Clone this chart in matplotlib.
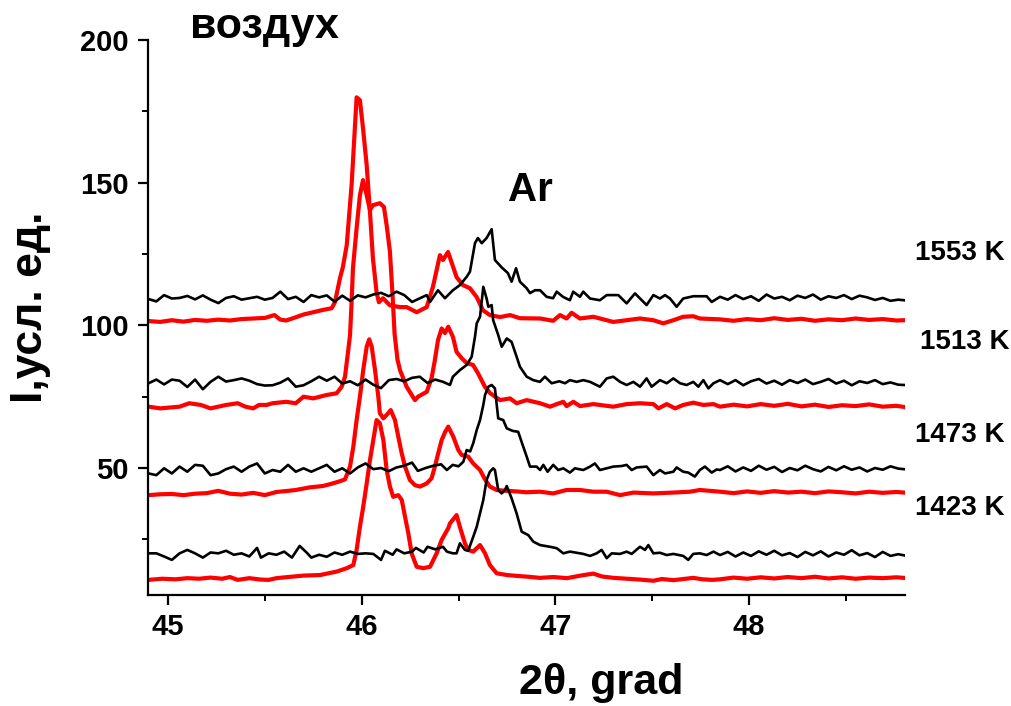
import matplotlib
matplotlib.use("Agg")
import matplotlib.pyplot as plt
from matplotlib.ticker import MultipleLocator

# ---------------- data ----------------
# 1553 K
tt_1553_air = [44.90, 44.96, 45.02, 45.08, 45.14, 45.20, 45.26, 45.32, 45.38, 45.44, 45.50, 45.55, 45.58, 45.61,
               45.65, 45.70, 45.75, 45.80, 45.845, 45.862, 45.888, 45.903, 45.923, 45.948, 45.974, 45.991, 46.007,
               46.026, 46.043, 46.058, 46.077, 46.089, 46.11, 46.146, 46.198, 46.232, 46.284, 46.336, 46.368,
               46.404, 46.42, 46.446, 46.49, 46.523, 46.559, 46.594, 46.626, 46.662, 46.714, 46.766, 46.817,
               46.921, 46.989, 47.024, 47.058, 47.084, 47.127, 47.196, 47.299, 47.437, 47.506, 47.557, 47.609,
               47.660, 47.712, 47.746, 47.850, 47.92, 47.99, 48.06, 48.13, 48.20, 48.27, 48.34, 48.41, 48.48,
               48.55, 48.62, 48.69, 48.76, 48.80]
I_1553_air = [101.5, 101.2, 101.8, 101.3, 101.9, 101.6, 102.0, 101.7, 102.2, 102.4, 102.6, 103.6, 102.0, 101.7,
              102.6, 103.8, 104.6, 105.4, 106.0, 108.1, 116.5, 120.4, 128.1, 149.1, 179.9, 178.9, 169.1,
              156.1, 139.7, 123.6, 111.6, 108.1, 109.5, 107.0, 106.4, 106.4, 104.6, 106.4, 113.5,
              124.6, 122.9, 125.7, 116.9, 114.1, 113.0, 109.9, 105.3, 103.6, 102.9, 103.6, 102.5,
              102.4, 101.6, 103.6, 102.4, 104.4, 102.4, 103.0, 101.2, 102.4, 101.8, 100.7, 101.8,
              103.0, 103.2, 102.4, 102.1, 101.6, 102.2, 101.8, 102.5, 101.9, 102.3, 101.6, 102.1, 101.8,
              102.4, 101.9, 102.2, 101.7, 101.8]

tt_1553_ar = [44.90, 44.94, 44.98, 45.02, 45.06, 45.10, 45.14, 45.18, 45.22, 45.26, 45.30, 45.34, 45.38, 45.42,
              45.46, 45.50, 45.54, 45.58, 45.62, 45.66, 45.70, 45.74, 45.78, 45.82, 45.86, 45.90, 45.94, 45.98,
              46.02, 46.06, 46.10, 46.14, 46.18, 46.22, 46.26, 46.301, 46.336, 46.353, 46.394, 46.430, 46.471,
              46.507, 46.542, 46.559, 46.585, 46.600, 46.620, 46.645, 46.671, 46.688, 46.723, 46.755, 46.774,
              46.797, 46.817, 46.852, 46.869, 46.895, 46.921, 46.955, 46.988, 47.007, 47.039, 47.075, 47.092,
              47.127, 47.144, 47.179, 47.230, 47.265, 47.325, 47.368, 47.411, 47.471, 47.506, 47.540, 47.566,
              47.592, 47.626, 47.660, 47.712, 47.781, 47.807, 47.850, 47.89, 47.93, 47.97, 48.01, 48.05, 48.09,
              48.13, 48.17, 48.21, 48.25, 48.29, 48.33, 48.37, 48.41, 48.45, 48.49, 48.53, 48.57, 48.61, 48.65,
              48.69, 48.73, 48.77, 48.80]
I_1553_ar = [109.2, 108.4, 110.6, 109.4, 109.6, 110.3, 109.1, 110.5, 109.0, 107.8, 109.6, 110.2, 109.0, 109.5,
             110.0, 109.0, 109.6, 111.8, 109.2, 110.0, 108.2, 110.6, 109.8, 110.5, 108.3, 110.4, 108.6, 110.5,
             109.8, 110.8, 111.4, 110.2, 111.8, 110.6, 108.2, 109.5, 110.6, 108.2, 112.3, 109.5, 112.3,
             114.1, 117.0, 118.8, 128.8, 130.6, 128.8, 130.6, 133.7, 122.9, 120.3, 118.3, 115.3,
             120.0, 115.3, 113.0, 111.3, 112.3, 112.3, 110.0, 109.5, 111.8, 110.0, 108.8, 111.8,
             110.0, 111.8, 109.4, 108.8, 110.6, 110.6, 107.7, 111.2, 107.1, 110.6, 109.4, 110.6,
             109.4, 106.5, 109.4, 110.2, 110.2, 108.2, 110.0, 109.0, 110.6, 109.2, 110.2, 108.6, 110.8,
             109.4, 110.0, 108.8, 110.4, 109.6, 110.8, 109.0, 110.2, 109.6, 110.6, 109.2, 110.4, 109.8, 108.9,
             109.6, 108.6, 109.0, 108.8]

# 1513 K
tt_1513_air = [44.90, 44.96, 45.06, 45.11, 45.17, 45.22, 45.30, 45.36, 45.40, 45.44, 45.47, 45.51, 45.54, 45.61,
               45.66, 45.70, 45.75, 45.82, 45.871, 45.897, 45.914, 45.929, 45.940, 45.948, 45.955, 45.974, 45.991,
               46.007, 46.026, 46.043, 46.058, 46.094, 46.115, 46.129, 46.146, 46.160, 46.170, 46.185, 46.198,
               46.232, 46.275, 46.291, 46.336, 46.361, 46.378, 46.394, 46.413, 46.430, 46.447, 46.471, 46.490,
               46.516, 46.542, 46.575, 46.600, 46.636, 46.662, 46.714, 46.766, 46.800, 46.852, 46.921, 46.973,
               47.007, 47.041, 47.058, 47.093, 47.127, 47.196, 47.299, 47.368, 47.437, 47.506, 47.532, 47.575,
               47.618, 47.660, 47.712, 47.764, 47.816, 47.850, 47.92, 47.99, 48.06, 48.13, 48.20, 48.27, 48.34,
               48.41, 48.48, 48.55, 48.62, 48.69, 48.76, 48.80]
I_1513_air = [71.5, 70.9, 71.5, 72.7, 72.1, 70.9, 72.1, 72.7, 71.5, 70.9, 72.1, 72.1, 72.7, 73.2,
              72.7, 75.0, 74.4, 75.6, 76.2, 78.5, 82.0, 90.3, 96.6, 108.1, 120.0, 134.1, 145.6,
              150.9, 145.6, 140.4, 142.1, 142.8, 141.5, 135.1, 125.8, 110.0, 97.0, 88.0, 84.3,
              78.5, 73.8, 75.0, 76.7, 81.5, 87.8, 94.8, 98.9, 97.3, 99.5, 96.0, 90.7,
              88.5, 86.8, 86.1, 83.3, 78.5, 76.3, 73.8, 74.4, 72.7, 73.8, 72.7, 71.5,
              72.4, 73.2, 71.7, 73.2, 71.7, 72.4, 71.5, 72.4, 72.7, 72.4, 70.9, 72.4,
              70.9, 72.1, 72.9, 72.1, 72.4, 71.5, 72.2, 71.6, 72.4, 71.8, 72.5, 71.6, 72.2,
              71.4, 72.0, 71.7, 72.3, 71.5, 71.8, 71.4]

tt_1513_ar = [44.90, 44.94, 44.98, 45.02, 45.06, 45.10, 45.14, 45.18, 45.22, 45.26, 45.30, 45.34, 45.38, 45.42,
              45.46, 45.50, 45.54, 45.58, 45.62, 45.66, 45.70, 45.74, 45.78, 45.82, 45.86, 45.90, 45.94, 45.98,
              46.02, 46.06, 46.10, 46.14, 46.18, 46.22, 46.26, 46.30, 46.34, 46.38, 46.42, 46.456, 46.471,
              46.507, 46.542, 46.568, 46.585, 46.594, 46.611, 46.628, 46.645, 46.654, 46.671, 46.679, 46.705,
              46.723, 46.749, 46.774, 46.800, 46.817, 46.852, 46.886, 46.92, 46.946, 46.981, 47.02, 47.050,
              47.075, 47.110, 47.144, 47.179, 47.230, 47.265, 47.299, 47.334, 47.368, 47.403, 47.437, 47.471,
              47.497, 47.540, 47.575, 47.609, 47.644, 47.678, 47.712, 47.738, 47.764, 47.790, 47.816, 47.850,
              47.89, 47.93, 47.97, 48.01, 48.05, 48.09, 48.13, 48.17, 48.21, 48.25, 48.29, 48.33, 48.37, 48.41,
              48.45, 48.49, 48.53, 48.57, 48.61, 48.65, 48.69, 48.73, 48.77, 48.80]
I_1513_ar = [79.7, 81.0, 79.3, 81.0, 80.6, 78.4, 81.0, 77.6, 80.2, 82.0, 80.3, 80.8, 81.4, 80.6,
             79.4, 78.9, 79.0, 79.9, 81.4, 78.5, 79.0, 80.4, 82.0, 80.6, 82.0, 79.6, 80.4, 79.0,
             81.0, 79.2, 78.0, 80.8, 81.2, 80.4, 81.6, 82.0, 79.8, 81.0, 80.2, 79.1, 82.0,
             84.3, 86.1, 89.0, 96.0, 100.7, 103.0, 113.5, 109.4, 106.5, 107.1, 101.8, 96.6,
             92.5, 95.4, 94.2, 89.0, 85.5, 82.0, 80.8, 80.2, 82.0, 79.7, 80.4, 79.7,
             80.8, 80.2, 80.8, 80.2, 78.5, 81.4, 82.0, 80.2, 79.1, 80.2, 78.5, 81.4,
             78.5, 80.8, 79.7, 81.4, 79.7, 79.1, 80.2, 78.5, 80.8, 77.9, 79.7, 80.8,
             79.4, 80.8, 79.0, 80.4, 81.2, 79.6, 80.6, 79.2, 80.8, 79.8, 81.0, 79.4, 80.2, 81.2,
             79.6, 80.6, 79.0, 80.4, 79.8, 80.8, 79.4, 80.0, 79.2, 79.1]

# 1473 K
tt_1473_air = [44.90, 44.96, 45.02, 45.08, 45.14, 45.20, 45.26, 45.32, 45.38, 45.44, 45.50, 45.56, 45.62, 45.66,
               45.73, 45.80, 45.84, 45.88, 45.914, 45.940, 45.957, 45.974, 45.991, 46.008, 46.026, 46.039, 46.052,
               46.069, 46.086, 46.094, 46.112, 46.129, 46.150, 46.172, 46.189, 46.207, 46.224, 46.249, 46.275,
               46.301, 46.336, 46.361, 46.378, 46.395, 46.413, 46.430, 46.447, 46.473, 46.499, 46.516, 46.550,
               46.576, 46.611, 46.637, 46.662, 46.697, 46.75, 46.80, 46.85, 46.92, 46.989, 47.058, 47.127,
               47.196, 47.265, 47.334, 47.403, 47.506, 47.609, 47.695, 47.746, 47.850, 47.92, 47.99, 48.06,
               48.13, 48.20, 48.27, 48.34, 48.41, 48.48, 48.55, 48.62, 48.69, 48.76, 48.80]
I_1473_air = [40.5, 40.8, 40.9, 40.5, 41.0, 41.2, 42.0, 41.0, 40.7, 41.3, 40.5, 41.6, 42.0, 42.3,
              43.2, 43.7, 44.4, 45.2, 46.0, 50.5, 57.5, 66.8, 75.0, 84.3, 92.5, 95.1, 92.5,
              84.3, 75.0, 69.2, 67.4, 68.6, 70.3, 66.8, 61.0, 55.1, 50.5, 45.8, 44.0,
              43.5, 44.6, 46.4, 50.5, 55.1, 59.8, 62.5, 64.5, 61.0, 56.3, 54.6, 54.0,
              51.6, 49.3, 46.0, 43.5, 42.3, 42.0, 41.8, 41.5, 41.7, 41.1, 42.3, 42.3,
              41.7, 41.7, 40.5, 41.4, 41.1, 41.4, 41.7, 42.3, 41.7, 41.2, 41.8, 41.3,
              41.9, 41.4, 41.7, 41.2, 41.8, 41.5, 41.1, 41.7, 41.3, 41.6, 41.4]

tt_1473_ar = [44.90, 44.94, 44.98, 45.02, 45.06, 45.10, 45.14, 45.18, 45.22, 45.26, 45.30, 45.34, 45.38, 45.42,
              45.46, 45.50, 45.54, 45.58, 45.62, 45.66, 45.70, 45.74, 45.78, 45.82, 45.86, 45.90, 45.94, 45.98,
              46.02, 46.06, 46.10, 46.14, 46.18, 46.22, 46.26, 46.29, 46.33, 46.37, 46.41, 46.44, 46.47, 46.50,
              46.525, 46.542, 46.56, 46.576, 46.594, 46.611, 46.628, 46.637, 46.654, 46.671, 46.688, 46.705,
              46.731, 46.749, 46.78, 46.808, 46.834, 46.852, 46.869, 46.903, 46.921, 46.938, 46.96, 46.989,
              47.015, 47.041, 47.075, 47.101, 47.144, 47.179, 47.204, 47.230, 47.265, 47.299, 47.342, 47.368,
              47.394, 47.420, 47.471, 47.506, 47.540, 47.566, 47.609, 47.626, 47.660, 47.686, 47.720, 47.746,
              47.772, 47.807, 47.833, 47.850, 47.89, 47.93, 47.97, 48.01, 48.05, 48.09, 48.13, 48.17, 48.21,
              48.25, 48.29, 48.33, 48.37, 48.41, 48.45, 48.49, 48.53, 48.57, 48.61, 48.65, 48.69, 48.73, 48.77,
              48.80]
I_1473_ar = [48.1, 47.5, 49.9, 48.1, 50.5, 48.7, 51.1, 50.8, 47.5, 48.1, 49.6, 50.5, 48.7, 50.5,
             51.6, 48.1, 49.3, 48.7, 51.1, 48.7, 49.9, 48.7, 49.9, 51.1, 48.7, 49.9, 48.1, 50.2,
             51.6, 49.6, 50.0, 48.9, 50.2, 50.8, 51.9, 49.0, 50.0, 50.8, 51.3, 49.3, 51.1, 50.6,
             52.2, 56.3, 55.8, 58.7, 63.3, 66.8, 72.1, 75.6, 78.5, 79.1, 77.9, 67.4,
             66.8, 63.9, 63.0, 62.7, 57.5, 54.0, 50.5, 50.5, 49.3, 51.1, 48.7, 51.1,
             49.3, 49.9, 48.4, 49.9, 49.3, 50.5, 51.6, 49.3, 49.9, 50.5, 50.7, 51.1,
             49.3, 50.2, 50.5, 47.5, 49.3, 48.1, 48.7, 50.2, 48.7, 48.4, 47.0, 49.3,
             50.5, 48.4, 49.5, 49.3, 50.6, 48.8, 50.2, 49.0, 50.8, 49.4, 50.4, 48.6, 50.0,
             49.2, 50.8, 49.6, 48.8, 50.4, 49.2, 50.6, 49.4, 50.2, 48.8, 50.0, 49.4, 50.6, 49.8,
             49.6]

# 1423 K
tt_1423_air = [44.90, 44.97, 45.04, 45.10, 45.16, 45.22, 45.28, 45.32, 45.36, 45.42, 45.48, 45.52, 45.56, 45.62,
               45.70, 45.785, 45.871, 45.923, 45.957, 45.974, 45.991, 46.008, 46.026, 46.043, 46.060, 46.077,
               46.094, 46.112, 46.129, 46.146, 46.163, 46.189, 46.207, 46.224, 46.241, 46.258, 46.284, 46.318,
               46.353, 46.387, 46.413, 46.447, 46.456, 46.490, 46.507, 46.533, 46.550, 46.576, 46.611, 46.637,
               46.662, 46.697, 46.75, 46.80, 46.86, 46.92, 46.99, 47.06, 47.13, 47.196, 47.24, 47.30, 47.37,
               47.437, 47.506, 47.55, 47.61, 47.66, 47.712, 47.76, 47.81, 47.85, 47.92, 47.99, 48.06, 48.13,
               48.20, 48.27, 48.34, 48.41, 48.48, 48.55, 48.62, 48.69, 48.76, 48.80]
I_1423_air = [10.8, 11.2, 11.0, 11.4, 11.2, 11.6, 11.2, 11.8, 10.8, 11.4, 10.9, 10.8, 11.4, 11.8,
              12.3, 12.5, 13.7, 14.9, 16.0, 21.3, 29.4, 36.4, 44.6, 52.8, 59.8, 66.8,
              65.7, 59.8, 49.3, 43.5, 39.9, 40.5, 38.8, 32.9, 27.1, 20.1, 15.4, 14.9,
              15.4, 20.1, 24.8, 28.9, 30.6, 33.5, 29.4, 23.6, 21.3, 20.7, 23.0, 20.1,
              16.0, 13.1, 12.5, 12.2, 11.9, 11.5, 11.8, 11.4, 12.3, 13.0, 12.0, 11.5, 11.2,
              10.9, 10.5, 11.1, 10.7, 11.1, 11.5, 11.0, 10.8, 11.0, 11.6, 11.2, 11.7, 11.3,
              11.8, 11.4, 11.9, 11.3, 11.7, 11.2, 11.6, 11.4, 11.7, 11.5]

tt_1423_ar = [44.90, 44.94, 44.98, 45.02, 45.06, 45.10, 45.14, 45.18, 45.22, 45.26, 45.30, 45.34, 45.38, 45.42,
              45.46, 45.48, 45.52, 45.56, 45.60, 45.64, 45.68, 45.72, 45.74, 45.78, 45.82, 45.86, 45.90, 45.94,
              45.98, 46.02, 46.06, 46.10, 46.12, 46.16, 46.18, 46.22, 46.26, 46.28, 46.32, 46.34, 46.38, 46.42,
              46.44, 46.471, 46.490, 46.507, 46.533, 46.550, 46.576, 46.594, 46.611, 46.628, 46.645, 46.662,
              46.679, 46.688, 46.705, 46.723, 46.740, 46.749, 46.774, 46.800, 46.826, 46.860, 46.886, 46.921,
              46.972, 47.007, 47.041, 47.075, 47.110, 47.144, 47.179, 47.213, 47.239, 47.265, 47.291, 47.334,
              47.368, 47.394, 47.437, 47.463, 47.480, 47.506, 47.540, 47.575, 47.609, 47.660, 47.686, 47.712,
              47.746, 47.781, 47.816, 47.850, 47.89, 47.93, 47.97, 48.01, 48.05, 48.09, 48.13, 48.17, 48.21,
              48.25, 48.29, 48.33, 48.37, 48.41, 48.45, 48.49, 48.53, 48.57, 48.61, 48.65, 48.69, 48.73, 48.77,
              48.80]
I_1423_ar = [20.1, 20.1, 19.0, 17.8, 20.1, 21.3, 20.1, 18.6, 20.4, 20.1, 21.0, 19.6, 20.1, 19.0,
             22.0, 18.6, 20.1, 19.6, 20.7, 18.6, 22.7, 20.1, 18.6, 19.6, 18.9, 20.4, 19.6, 20.7,
             19.9, 20.1, 19.9, 17.8, 21.0, 19.6, 21.5, 20.1, 20.7, 22.0, 20.4, 22.4, 21.5, 22.4,
             20.7, 20.1, 20.1, 23.6, 21.3, 21.0, 25.9, 29.4, 34.1, 38.8, 45.8, 48.7,
             49.9, 49.3, 42.3, 41.1, 42.3, 43.7, 39.4, 34.1, 27.7, 26.5, 24.2, 23.0,
             22.4, 21.9, 20.1, 20.7, 20.3, 19.9, 19.2, 20.1, 21.3, 18.4, 20.1, 19.9,
             20.7, 19.9, 22.4, 21.3, 23.0, 20.1, 20.3, 19.5, 19.9, 19.2, 17.8, 19.9,
             20.1, 19.5, 20.7, 19.5, 20.6, 19.0, 20.4, 19.2, 20.8, 19.6, 21.0, 19.4, 20.2,
             18.8, 20.6, 19.4, 20.8, 19.0, 20.4, 19.6, 21.2, 19.4, 20.2, 18.8, 20.6, 19.2, 19.8,
             19.4]

temp_labels = ["1553 K", "1513 K", "1473 K", "1423 K"]
x_ticks = [45, 46, 47, 48]
y_ticks = [50, 100, 150, 200]

# ---------------- figure ----------------
plt.rcParams['font.family'] = ['Liberation Sans', 'DejaVu Sans']
plt.rcParams['font.weight'] = 'bold'

fig = plt.figure(figsize=(10.12, 7.06), dpi=100)
ax = fig.add_axes([148 / 1012, 1 - 595 / 706, (905 - 148) / 1012, (595 - 40) / 706])

red_w, blk_w = 3.0, 1.9
for tt, ii in [(tt_1553_air, I_1553_air), (tt_1513_air, I_1513_air),
               (tt_1473_air, I_1473_air), (tt_1423_air, I_1423_air)]:
    ax.plot(tt, ii, color='#ff0000', lw=red_w, solid_joinstyle='round', zorder=2)
for tt, ii in [(tt_1553_ar, I_1553_ar), (tt_1513_ar, I_1513_ar),
               (tt_1473_ar, I_1473_ar), (tt_1423_ar, I_1423_ar)]:
    ax.plot(tt, ii, color='black', lw=blk_w, solid_joinstyle='round', zorder=3)

ax.set_xlim(44.897, 48.805)
ax.set_ylim(5.5, 200)

for s in ['top', 'right']:
    ax.spines[s].set_visible(False)
for s in ['left', 'bottom']:
    ax.spines[s].set_linewidth(1.6)

ax.set_xticks(x_ticks)
ax.set_yticks(y_ticks)
ax.xaxis.set_minor_locator(MultipleLocator(0.5))
ax.yaxis.set_minor_locator(MultipleLocator(25))
ax.tick_params(which='major', direction='out', length=7, width=1.6, labelsize=21, pad=6)
ax.tick_params(which='minor', direction='out', length=4, width=1.4)
ax.tick_params(axis='y', which='major', pad=7)
for lab in ax.get_xticklabels() + ax.get_yticklabels():
    lab.set_fontweight('bold')

ax.set_xlabel('2θ, grad', fontsize=31, fontweight='bold')
ax.xaxis.set_label_coords((601 - 148) / 757, (595 - 683) / 555)
ax.set_ylabel('I,усл. ед.', fontsize=32, fontweight='bold')
ax.yaxis.set_label_coords((31 - 148) / 757, (595 - 307) / 555)
ax.xaxis.label.set_va('center')
ax.yaxis.label.set_va('center')

# annotations
ax.text((264 - 148) / 757, (595 - 27) / 555, 'воздух', transform=ax.transAxes, fontsize=31,
        fontweight='bold', ha='center', va='center')
ax.text((530 - 148) / 757, (595 - 190) / 555, 'Ar', transform=ax.transAxes, fontsize=29,
        fontweight='bold', ha='center', va='center')
label_px = [(960, 253), (965, 342), (960, 435), (960, 508)]
for txt, (px, py) in zip(temp_labels, label_px):
    ax.text((px - 148) / 757, (595 - py) / 555, txt, transform=ax.transAxes, fontsize=20,
            fontweight='bold', ha='center', va='center', clip_on=False)

fig.savefig('out.png', dpi=100)
